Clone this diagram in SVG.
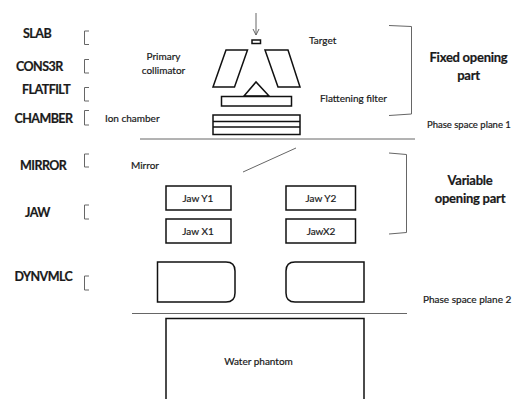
<svg xmlns="http://www.w3.org/2000/svg" width="512" height="399" viewBox="0 0 512 399">
<style>
text{font-family:Lato,"Open Sans","Liberation Sans",sans-serif;fill:#1a1a1a;stroke:#1a1a1a;stroke-width:.2}
.t{font-size:10px}
.h{font-size:12.500px;font-weight:700;letter-spacing:-.55px}
.b{font-size:13px;font-weight:700;text-anchor:middle;letter-spacing:-.25px}
.m{text-anchor:middle}
.s{fill:#fff;stroke:#111;stroke-width:1.5}
.br{fill:none;stroke:#666;stroke-width:1}
.pl{fill:none;stroke:#666;stroke-width:1}
</style>
<defs>
<marker id="a" markerUnits="userSpaceOnUse" markerWidth="8" markerHeight="8" refX="6" refY="4" orient="auto"><path d="M0 1L6 4L0 7" fill="none" stroke="#666" stroke-width="1"/></marker>
</defs>
<rect width="512" height="399" fill="#fff"/>
<g id="connectors">
<path class="pl" d="M256 13V35" marker-end="url(#a)"/>
<path class="pl" d="M140 139H415"/>
<path class="pl" d="M243 172L296 148"/>
<path class="pl" d="M132 313.500H407"/>
</g>
<g id="labels-left">
<text class="h" x="23" y="37.500">SLAB</text>
<text class="h" x="16" y="70.500">CONS3R</text>
<text class="h" x="22" y="94">FLATFILT</text>
<text class="h" x="14.500" y="122.500">CHAMBER</text>
<text class="h" x="20" y="169.500">MIRROR</text>
<text class="h" x="25" y="217">JAW</text>
<text class="h" x="14.500" y="280.500">DYNVMLC</text>
</g>
<g id="brackets-left">
<path class="br" d="M89 31H84.500V44.500H89"/>
<path class="br" d="M89 59.500H84.500V73H89"/>
<path class="br" d="M89 87.500H84.500V101H89"/>
<path class="br" d="M89 110.500H84.500V125H89"/>
<path class="br" d="M89 154H84.500V167H89"/>
<path class="br" d="M89 205H84.500V219H89"/>
<path class="br" d="M89 276H84.500V290H89"/>
</g>
<g id="target"><rect class="s" x="252" y="40" width="8.500" height="3.500"/><text class="t" x="309" y="44">Target</text></g>
<g id="primary-collimator">
<path class="s" d="M226 50H247.500L234.500 87H213Z"/>
<path class="s" d="M265 50H288L300 87H278Z"/>
<text class="t m" x="163.500" y="60">Primary</text><text class="t m" x="163.500" y="74">collimator</text>
</g>
<g id="flattening-filter">
<path class="s" d="M244 96L256 82L269 96Z"/>
<rect class="s" x="221.500" y="96.500" width="70" height="9.500"/>
<text class="t" x="320" y="102">Flattening filter</text>
</g>
<g id="ion-chamber">
<rect class="s" x="213" y="115" width="87" height="19.500"/>
<path class="s" d="M213 121.500H300M213 127H300"/>
<text class="t" x="105" y="122">Ion chamber</text>
</g>
<g id="mirror"><text class="t" x="131" y="169">Mirror</text></g>
<g id="jaw-y1"><rect class="s" x="166" y="186" width="65" height="24"/><text class="t m" x="198" y="202">Jaw Y1</text></g>
<g id="jaw-x1"><rect class="s" x="166" y="219" width="65" height="24"/><text class="t m" x="198" y="235">Jaw X1</text></g>
<g id="jaw-y2"><rect class="s" x="286" y="186" width="69.500" height="24"/><text class="t m" x="321" y="202">Jaw Y2</text></g>
<g id="jaw-x2"><rect class="s" x="286" y="219" width="69.500" height="24"/><text class="t m" x="321" y="235">JawX2</text></g>
<g id="mlc-left"><path class="s" d="M157.500 262H226Q235 262 235 271V293Q235 302 226 302H157.500Z"/></g>
<g id="mlc-right"><path class="s" d="M364 262H295Q286 262 286 271V293Q286 302 295 302H364Z"/></g>
<g id="water-phantom"><path class="s" d="M166 399V318.500H364V399"/><text class="t m" x="258.500" y="365">Water phantom</text></g>
<g id="fixed-part">
<path class="br" d="M389 25.500L411.500 26.500V114L389 115.500"/>
<text class="b" x="468.500" y="61.500">Fixed opening</text><text class="b" x="468.500" y="80">part</text>
</g>
<g id="variable-part">
<path class="br" d="M389 153L406.500 154.500V232.500L389 234"/>
<text class="b" x="470" y="184.500">Variable</text><text class="b" x="470" y="203">opening part</text>
</g>
<g id="phase-planes">
<text class="t" x="427" y="128" style="font-size:9.500px">Phase space plane 1</text>
<text class="t" x="423" y="303">Phase space plane 2</text>
</g>
</svg>
